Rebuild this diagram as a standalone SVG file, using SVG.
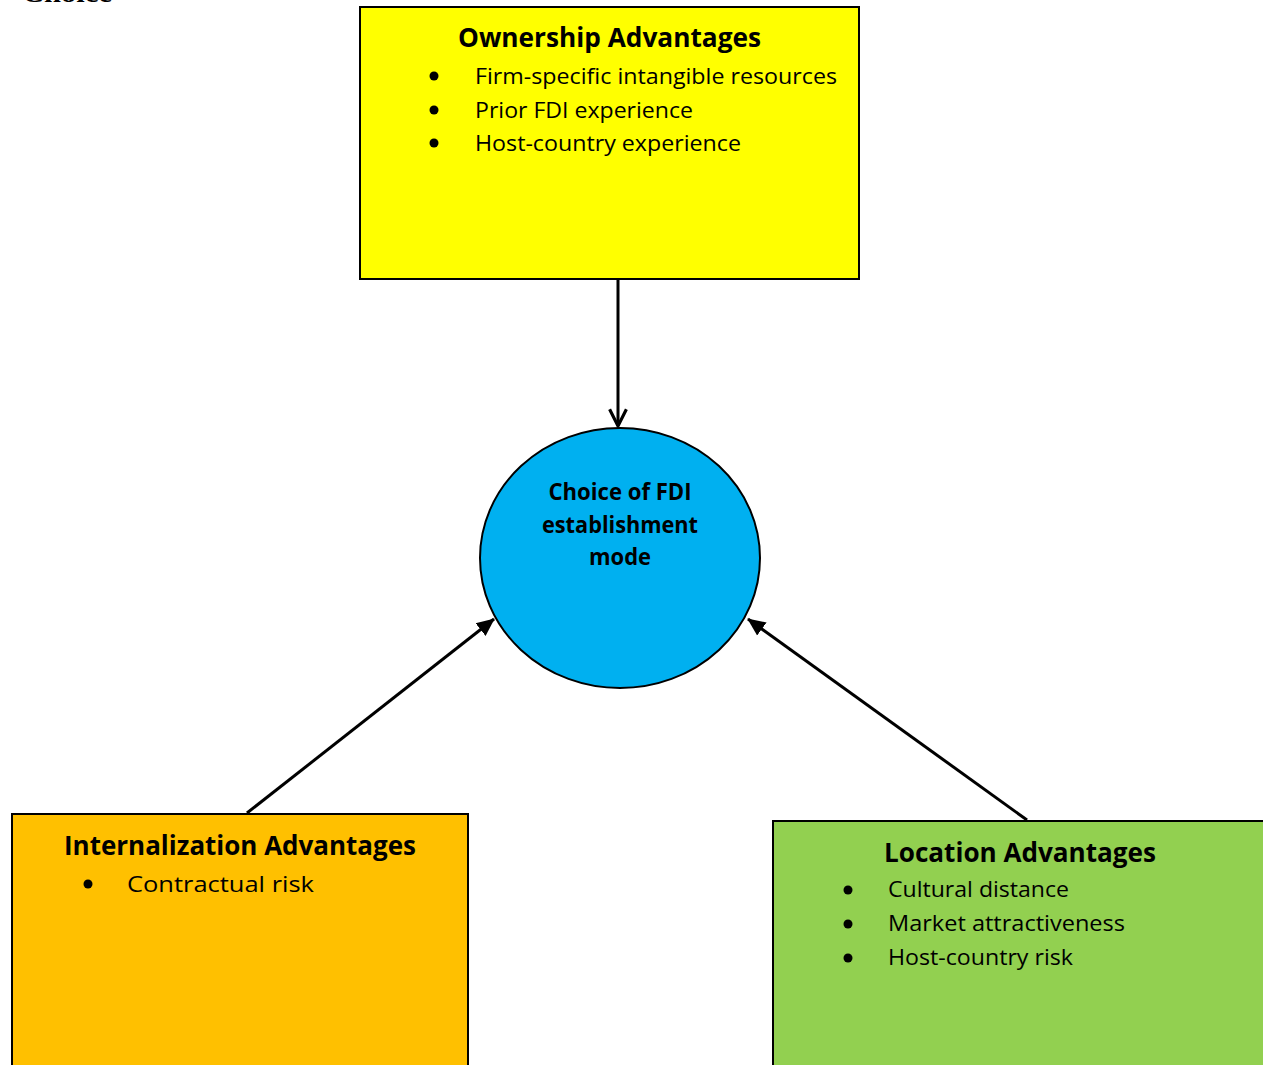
<svg xmlns="http://www.w3.org/2000/svg" width="1263" height="1065" viewBox="0 0 1263 1065">
<style>
.box{stroke:#000;stroke-width:2}
.t{font-family:"Open Sans","Liberation Sans",sans-serif;font-weight:bold;font-size:26px;fill:#000}
.i{font-family:"Open Sans","Liberation Sans",sans-serif;font-size:22px;fill:#000}
.c{font-family:"Open Sans","Liberation Sans",sans-serif;font-weight:bold;font-size:22.5px;fill:#000;text-anchor:middle}
.conn{stroke:#000;stroke-width:3;fill:none}
</style>
<defs>
<marker id="open" viewBox="0 0 20 20" refX="18" refY="10" markerWidth="7" markerHeight="7" markerUnits="strokeWidth" orient="auto">
<path d="M2,2 L18,10 L2,18" fill="none" stroke="#000" stroke-width="3"/>
</marker>
<marker id="fill" viewBox="0 0 20 20" refX="19" refY="10" markerWidth="6" markerHeight="6" markerUnits="strokeWidth" orient="auto">
<path d="M0,1 L20,10 L0,19 Z" fill="#000"/>
</marker>
</defs>
<text x="22" y="2" font-family="Liberation Serif,serif" font-weight="bold" font-size="26" textLength="90" lengthAdjust="spacingAndGlyphs">Choice</text>
<g id="connectors">
<line class="conn" x1="618" y1="280" x2="618" y2="426" marker-end="url(#open)"/>
<line class="conn" x1="247" y1="813" x2="494" y2="619" marker-end="url(#fill)"/>
<line class="conn" x1="1027" y1="820" x2="748" y2="619" marker-end="url(#fill)"/>
</g>
<g id="ownership">
<rect class="box" x="360" y="7" width="499" height="272" fill="#FFFF00"/>
<text class="t" x="458" y="47" textLength="303" lengthAdjust="spacingAndGlyphs">Ownership Advantages</text>
<circle cx="434" cy="76" r="4.5"/>
<circle cx="434" cy="110" r="4.5"/>
<circle cx="434" cy="143" r="4.5"/>
<text class="i" x="475" y="84" textLength="362" lengthAdjust="spacingAndGlyphs">Firm-specific intangible resources</text>
<text class="i" x="475" y="118" textLength="218" lengthAdjust="spacingAndGlyphs">Prior FDI experience</text>
<text class="i" x="475" y="151" textLength="266" lengthAdjust="spacingAndGlyphs">Host-country experience</text>
</g>
<g id="choice">
<ellipse cx="620" cy="558" rx="140" ry="130" fill="#00B0F0" stroke="#000" stroke-width="2"/>
<text class="c" x="620" y="500" textLength="143" lengthAdjust="spacingAndGlyphs">Choice of FDI</text>
<text class="c" x="620" y="533" textLength="156" lengthAdjust="spacingAndGlyphs">establishment</text>
<text class="c" x="620" y="565" textLength="62" lengthAdjust="spacingAndGlyphs">mode</text>
</g>
<g id="internalization">
<rect class="box" x="12" y="814" width="456" height="260" fill="#FFC000"/>
<text class="t" x="64" y="855" textLength="352" lengthAdjust="spacingAndGlyphs">Internalization Advantages</text>
<circle cx="88" cy="884" r="4.5"/>
<text class="i" x="127" y="892" textLength="187" lengthAdjust="spacingAndGlyphs">Contractual risk</text>
</g>
<g id="location">
<rect class="box" x="773" y="821" width="500" height="260" fill="#92D050"/>
<text class="t" x="884" y="862" textLength="272" lengthAdjust="spacingAndGlyphs">Location Advantages</text>
<circle cx="848" cy="890" r="4.5"/>
<circle cx="848" cy="924" r="4.5"/>
<circle cx="848" cy="958" r="4.5"/>
<text class="i" x="888" y="897" textLength="181" lengthAdjust="spacingAndGlyphs">Cultural distance</text>
<text class="i" x="888" y="931" textLength="237" lengthAdjust="spacingAndGlyphs">Market attractiveness</text>
<text class="i" x="888" y="965" textLength="185" lengthAdjust="spacingAndGlyphs">Host-country risk</text>
</g>
</svg>
